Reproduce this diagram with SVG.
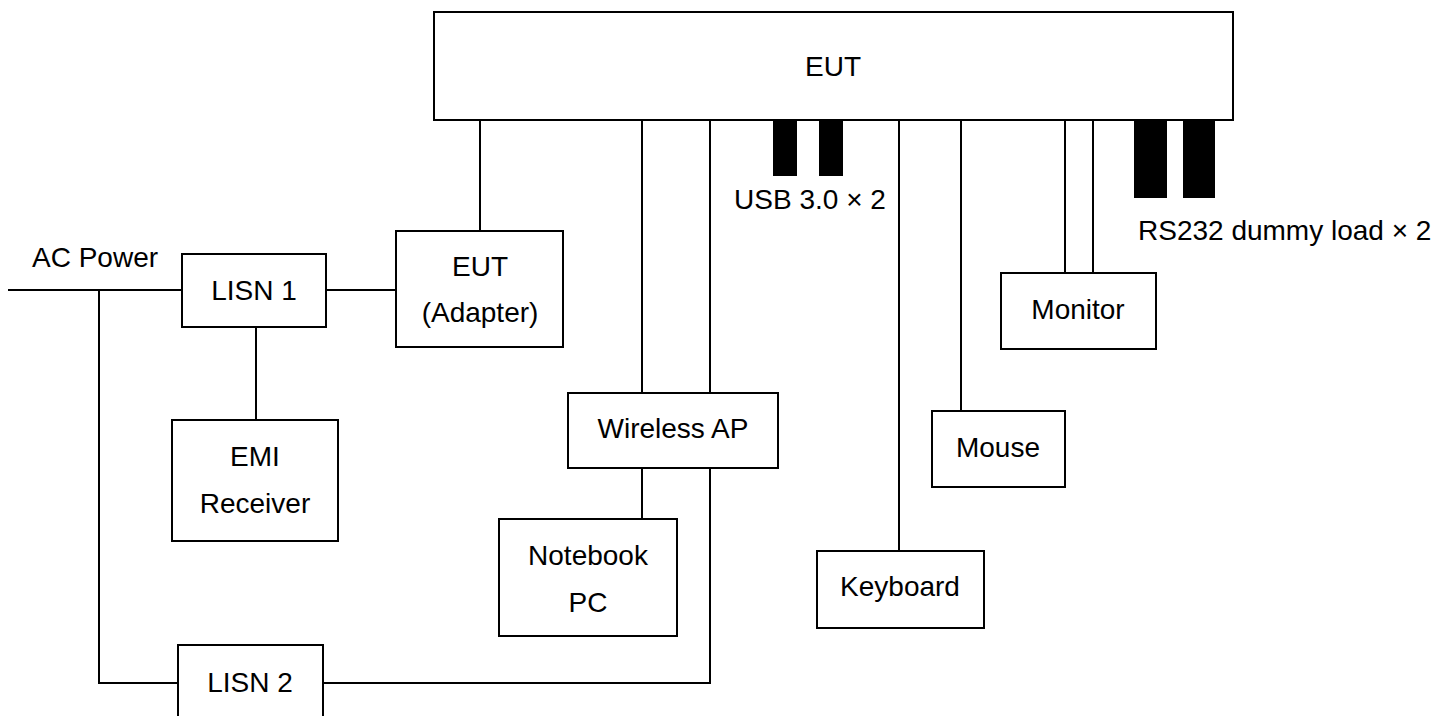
<svg xmlns="http://www.w3.org/2000/svg" width="1451" height="716" viewBox="0 0 1451 716">
<style>
.box{fill:#fff;stroke:#000;stroke-width:2}
.blk{fill:#000}
.w{fill:none;stroke:#000;stroke-width:2}
text{font-family:"Liberation Sans",Arial,sans-serif;font-size:28px;fill:#000}
.c{text-anchor:middle}
</style>
<rect width="1451" height="716" fill="#fff"/>
<g id="connectors">
<path class="w" d="M8 290H182"/>
<path class="w" d="M99 290V683H178"/>
<path class="w" d="M326 290H396"/>
<path class="w" d="M256 327V420"/>
<path class="w" d="M480 120V231"/>
<path class="w" d="M642 120V393"/>
<path class="w" d="M642 468V519"/>
<path class="w" d="M710 120V393"/>
<path class="w" d="M710 468V683H323"/>
<path class="w" d="M899 120V551"/>
<path class="w" d="M961 120V411"/>
<path class="w" d="M1065 120V273"/>
<path class="w" d="M1093 120V273"/>
</g>
<g id="eut">
<rect class="box" x="434" y="12" width="799" height="108"/>
<text class="c" x="833" y="76">EUT</text>
</g>
<g id="usb">
<rect class="blk" x="773" y="120" width="24" height="56"/>
<rect class="blk" x="819" y="120" width="24" height="56"/>
<text class="c" x="810" y="209">USB 3.0 × 2</text>
</g>
<g id="rs232">
<rect class="blk" x="1134" y="120" width="33" height="78"/>
<rect class="blk" x="1183" y="120" width="32" height="78"/>
<text x="1138" y="240">RS232 dummy load × 2</text>
</g>
<g id="ac-power">
<text x="32" y="267">AC Power</text>
</g>
<g id="lisn1">
<rect class="box" x="182" y="254" width="144" height="73"/>
<text class="c" x="254" y="300">LISN 1</text>
</g>
<g id="adapter">
<rect class="box" x="396" y="231" width="167" height="116"/>
<text class="c" x="480" y="276">EUT</text>
<text class="c" x="480" y="322">(Adapter)</text>
</g>
<g id="emi">
<rect class="box" x="172" y="420" width="166" height="121"/>
<text class="c" x="255" y="466">EMI</text>
<text class="c" x="255" y="513">Receiver</text>
</g>
<g id="wireless-ap">
<rect class="box" x="568" y="393" width="210" height="75"/>
<text class="c" x="673" y="438">Wireless AP</text>
</g>
<g id="notebook">
<rect class="box" x="499" y="519" width="178" height="117"/>
<text class="c" x="588" y="565">Notebook</text>
<text class="c" x="588" y="612">PC</text>
</g>
<g id="keyboard">
<rect class="box" x="817" y="551" width="167" height="77"/>
<text class="c" x="900" y="596">Keyboard</text>
</g>
<g id="mouse">
<rect class="box" x="932" y="411" width="133" height="76"/>
<text class="c" x="998" y="457">Mouse</text>
</g>
<g id="monitor">
<rect class="box" x="1001" y="273" width="155" height="76"/>
<text class="c" x="1078" y="319">Monitor</text>
</g>
<g id="lisn2">
<rect class="box" x="178" y="645" width="145" height="80"/>
<text class="c" x="250" y="692">LISN 2</text>
</g>
</svg>
